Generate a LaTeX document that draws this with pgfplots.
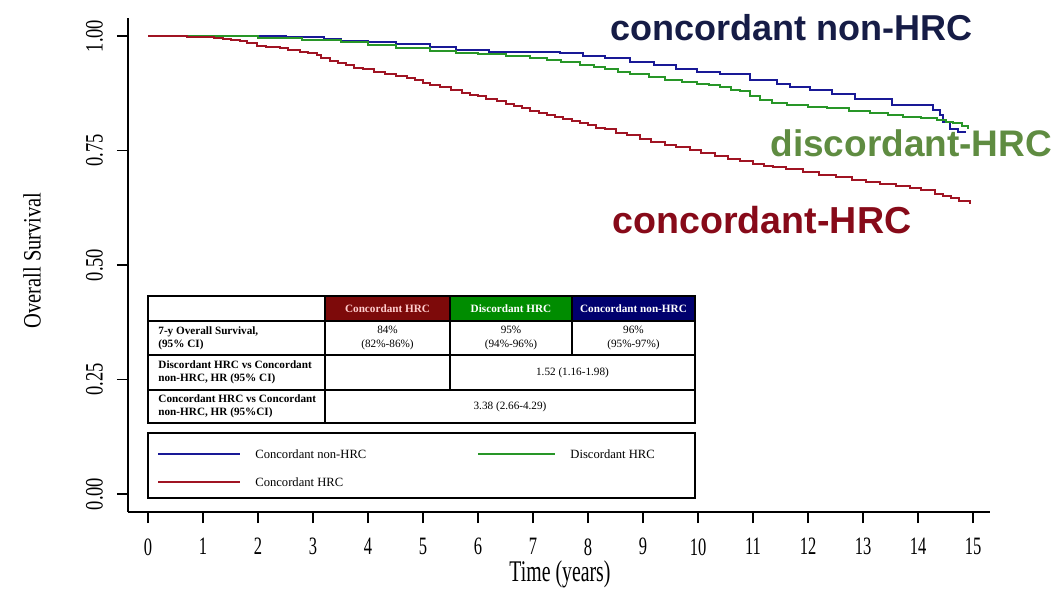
\documentclass[border=0pt]{standalone}
\usepackage{fontspec}
\setmainfont{Liberation Serif}
\newfontfamily\axfont{Liberation Serif}[FakeStretch=0.66]
\newfontfamily\ytfont{Liberation Serif}[FakeStretch=0.74]
\newfontfamily\ylfont{Liberation Serif}[FakeStretch=0.82]
\newfontfamily\annfont{Liberation Sans}
\usepackage{pgfplots}
\pgfplotsset{compat=1.18}

\definecolor{kmblue}{RGB}{25,25,150}
\definecolor{kmgreen}{RGB}{40,150,40}
\definecolor{kmred}{RGB}{160,20,35}
\definecolor{annblue}{RGB}{22,28,70}
\definecolor{anngreen}{RGB}{95,140,65}
\definecolor{annred}{RGB}{135,10,25}
\definecolor{hdrred}{RGB}{125,10,10}
\definecolor{hdrredtxt}{RGB}{255,205,205}
\definecolor{hdrgreen}{RGB}{0,140,0}
\definecolor{hdrblue}{RGB}{0,0,110}

\newcommand{\tabfont}{\fontsize{5.6}{6.6}\selectfont}
\newcommand{\legfont}{\fontsize{6.3}{7}\selectfont}

\begin{document}
\begin{tikzpicture}
\begin{axis}[
  scale only axis, width=431pt, height=247pt,
  xmin=-0.364, xmax=15.309, ymin=-0.0393, ymax=1.0393,
  axis lines=left, axis line style={-, line width=0.8pt, black},
  xtick={0,1,...,15}, ytick={0,0.25,0.5,0.75,1},
  tick align=outside, major tick length=5.5pt,
  tick style={line width=0.8pt, black},
  /pgf/number format/assume math mode=true,
  xticklabel style={font=\axfont\fontsize{12.5}{12.5}\selectfont, inner sep=1pt, yshift=-6.5pt},
  yticklabel style={font=\ytfont\fontsize{12.5}{12.5}\selectfont, xshift=-3.5pt, rotate=90, anchor=south,
    /pgf/number format/.cd, fixed, fixed zerofill, precision=2},
  xlabel={Time (years)}, ylabel={Overall Survival},
  every axis x label/.style={at={(axis cs:7.49,-0.176)}, anchor=center, inner sep=1pt,
    font=\axfont\fontsize{15}{15}\selectfont},
  every axis y label/.style={at={(axis cs:-2.11,0.51)}, anchor=center, rotate=90,
    font=\ylfont\fontsize{12.5}{12.5}\selectfont},
  clip=false,
]
% Kaplan-Meier estimates, drawn as right-continuous steps
\addplot[const plot, kmblue, line width=1pt] coordinates {
(0.00,1.000) (1.50,0.999) (2.50,0.997) (3.20,0.993) (3.50,0.990) (4.00,0.986)
(4.50,0.982) (5.13,0.975) (5.60,0.970) (6.20,0.966) (6.80,0.965) (7.49,0.963)
(7.90,0.957) (8.30,0.951) (8.76,0.943) (9.20,0.936) (9.60,0.928) (9.98,0.921)
(10.40,0.917) (10.95,0.904) (11.43,0.895) (11.67,0.889) (12.04,0.881) (12.43,0.873)
(12.85,0.862) (13.52,0.849) (14.28,0.838) (14.40,0.827) (14.46,0.813) (14.58,0.798)
(14.73,0.791) (14.88,0.791)};
\addplot[const plot, kmgreen, line width=1pt] coordinates {
(0.00,1.000) (1.00,0.999) (2.00,0.996) (2.80,0.992) (3.50,0.986) (4.00,0.980)
(4.50,0.974) (5.13,0.967) (5.60,0.963) (6.00,0.960) (6.50,0.956) (6.95,0.952)
(7.25,0.948) (7.50,0.944) (7.85,0.937) (8.10,0.932) (8.30,0.927) (8.55,0.922)
(8.76,0.918) (9.10,0.911) (9.40,0.905) (9.70,0.900) (9.98,0.895) (10.20,0.892)
(10.40,0.888) (10.60,0.883) (10.76,0.879) (10.95,0.870) (11.13,0.860) (11.35,0.854)
(11.61,0.849) (12.00,0.845) (12.34,0.842) (12.75,0.836) (13.13,0.831) (13.45,0.827)
(13.73,0.824) (14.05,0.821) (14.34,0.817) (14.50,0.813) (14.64,0.809) (14.80,0.803)
(14.91,0.798)};
\addplot[const plot, kmred, line width=1pt] coordinates {
(0.00,1.000) (0.35,0.999) (0.70,0.998) (1.00,0.997) (1.20,0.995) (1.36,0.993)
(1.50,0.991) (1.67,0.988) (1.80,0.984) (1.98,0.979) (2.15,0.977) (2.40,0.973)
(2.55,0.970) (2.76,0.966) (2.90,0.962) (3.07,0.958) (3.15,0.953) (3.30,0.945)
(3.45,0.941) (3.60,0.936) (3.75,0.931) (3.90,0.927) (4.10,0.921) (4.30,0.917)
(4.50,0.913) (4.70,0.908) (4.85,0.903) (5.00,0.897) (5.13,0.893) (5.30,0.888)
(5.50,0.882) (5.70,0.876) (5.85,0.872) (6.00,0.868) (6.15,0.863) (6.35,0.857)
(6.50,0.852) (6.65,0.847) (6.80,0.842) (6.95,0.837) (7.10,0.832) (7.25,0.828)
(7.40,0.823) (7.55,0.819) (7.70,0.814) (7.85,0.810) (8.00,0.805) (8.15,0.800)
(8.30,0.796) (8.50,0.789) (8.70,0.783) (8.95,0.775) (9.15,0.769) (9.40,0.762)
(9.60,0.757) (9.85,0.750) (10.05,0.745) (10.30,0.738) (10.55,0.732) (10.76,0.726)
(11.00,0.721) (11.20,0.717) (11.36,0.714) (11.60,0.709) (11.90,0.703) (12.20,0.697)
(12.50,0.692) (12.80,0.686) (13.05,0.682) (13.30,0.677) (13.60,0.673) (13.85,0.668)
(14.05,0.663) (14.30,0.656) (14.45,0.651) (14.60,0.646) (14.75,0.640) (14.95,0.633)};

% group names beside the curves
\node[anchor=west, font=\annfont\bfseries\fontsize{18}{18}\selectfont, text=annblue, inner sep=0pt]
  at (axis cs:8.40,1.018) {concordant non-HRC};
\node[anchor=west, font=\annfont\bfseries\fontsize{18.5}{18.5}\selectfont, text=anngreen, inner sep=0pt]
  at (axis cs:11.31,0.766) {discordant-HRC};
\node[anchor=west, font=\annfont\bfseries\fontsize{18.8}{18.8}\selectfont, text=annred, inner sep=0pt]
  at (axis cs:8.44,0.598) {concordant-HRC};

% summary table
\begin{scope}[line width=0.6pt]
\fill[white] (axis cs:0,0.155) rectangle (axis cs:9.945,0.4323);
\fill[hdrred] (axis cs:3.218,0.3777) rectangle (axis cs:5.491,0.4323);
\fill[hdrgreen] (axis cs:5.491,0.3777) rectangle (axis cs:7.709,0.4323);
\fill[hdrblue] (axis cs:7.709,0.3777) rectangle (axis cs:9.945,0.4323);
\draw (axis cs:0,0.155) rectangle (axis cs:9.945,0.4323);
\draw (axis cs:0,0.3777) -- (axis cs:9.945,0.3777);
\draw (axis cs:0,0.3035) -- (axis cs:9.945,0.3035);
\draw (axis cs:0,0.2271) -- (axis cs:9.945,0.2271);
\draw (axis cs:3.218,0.155) -- (axis cs:3.218,0.4323);
\draw (axis cs:5.491,0.2271) -- (axis cs:5.491,0.4323);
\draw (axis cs:7.709,0.3035) -- (axis cs:7.709,0.4323);
\end{scope}
\node[font=\tabfont\bfseries, text=hdrredtxt] at (axis cs:4.355,0.405) {Concordant HRC};
\node[font=\tabfont\bfseries, text=white] at (axis cs:6.600,0.405) {Discordant HRC};
\node[font=\tabfont\bfseries, text=white] at (axis cs:8.827,0.405) {Concordant non-HRC};
\node[font=\tabfont\bfseries, anchor=west, align=left, inner sep=0pt] at (axis cs:0.182,0.3406)
  {7-y Overall Survival,\\(95\% CI)};
\node[font=\tabfont, align=center] at (axis cs:4.355,0.3406) {84\%\\(82\%-86\%)};
\node[font=\tabfont, align=center] at (axis cs:6.600,0.3406) {95\%\\(94\%-96\%)};
\node[font=\tabfont, align=center] at (axis cs:8.827,0.3406) {96\%\\(95\%-97\%)};
\node[font=\tabfont\bfseries, anchor=west, align=left, inner sep=0pt] at (axis cs:0.182,0.2653)
  {Discordant HRC vs Concordant\\non-HRC, HR (95\% CI)};
\node[font=\tabfont] at (axis cs:7.718,0.2653) {1.52 (1.16-1.98)};
\node[font=\tabfont\bfseries, anchor=west, align=left, inner sep=0pt] at (axis cs:0.182,0.191)
  {Concordant HRC vs Concordant\\non-HRC, HR (95\%CI)};
\node[font=\tabfont] at (axis cs:6.582,0.191) {3.38 (2.66-4.29)};

% key to the curves
\draw[line width=0.6pt, fill=white] (axis cs:0,-0.0087) rectangle (axis cs:9.945,0.1332);
\draw[kmblue, line width=1pt] (axis cs:0.182,0.0873) -- (axis cs:1.673,0.0873);
\node[font=\legfont, anchor=west, inner sep=0pt] at (axis cs:1.945,0.0873) {Concordant non-HRC};
\draw[kmgreen, line width=1pt] (axis cs:6.000,0.0873) -- (axis cs:7.400,0.0873);
\node[font=\legfont, anchor=west, inner sep=0pt] at (axis cs:7.673,0.0873) {Discordant HRC};
\draw[kmred, line width=1pt] (axis cs:0.182,0.026) -- (axis cs:1.673,0.026);
\node[font=\legfont, anchor=west, inner sep=0pt] at (axis cs:1.945,0.026) {Concordant HRC};

% page extent
\path (axis cs:-2.691,-0.2052) rectangle (axis cs:16.545,1.0786);
\end{axis}
\end{tikzpicture}
\end{document}
